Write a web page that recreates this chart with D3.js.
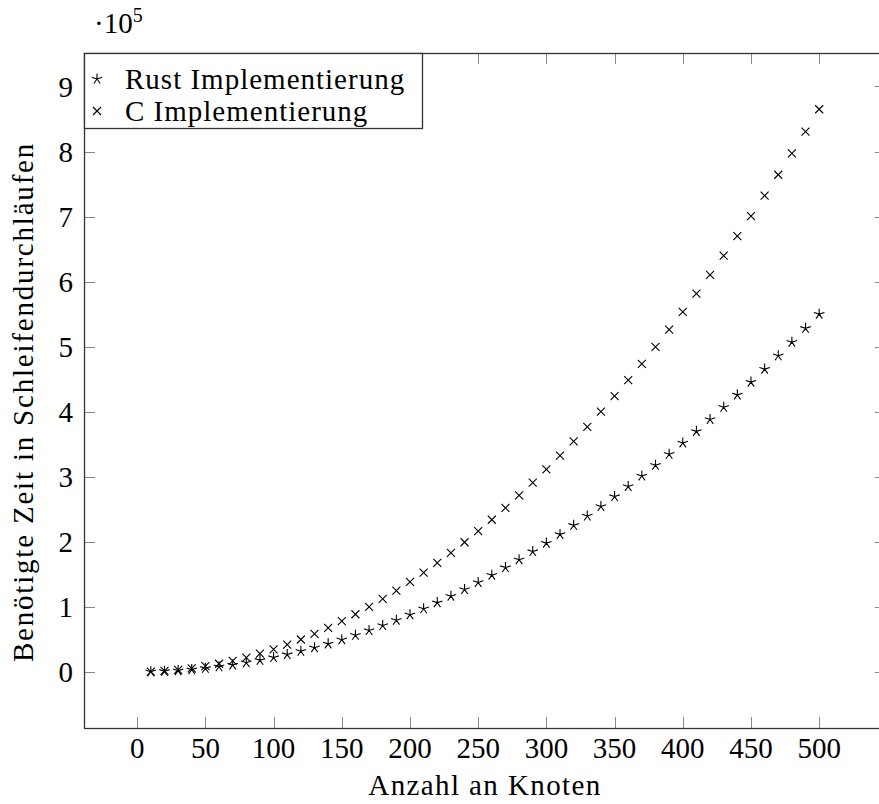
<!DOCTYPE html>
<html>
<head>
<meta charset="utf-8">
<script src="https://cdn.jsdelivr.net/npm/d3@7"></script>
<style>
  body { margin: 0; background: #fff; }
  text { font-family: "Liberation Serif", "DejaVu Serif", serif; fill: #000; }
</style>
</head>
<body>
<div id="chart"></div>
<script>
// Anzahl an Knoten
const knoten = [10, 20, 30, 40, 50, 60, 70, 80, 90, 100,
  110, 120, 130, 140, 150, 160, 170, 180, 190, 200,
  210, 220, 230, 240, 250, 260, 270, 280, 290, 300,
  310, 320, 330, 340, 350, 360, 370, 380, 390, 400,
  410, 420, 430, 440, 450, 460, 470, 480, 490, 500];

// Schleifendurchläufe, Rust
const rust = [220, 880, 1980, 3520, 5500, 7900, 10800, 14100, 17800, 22000,
  26600, 31700, 37200, 43100, 49500, 56300, 63600, 71300, 79400, 88000,
  97000, 106500, 116400, 126700, 137500, 148700, 160400, 172500, 185000, 198000,
  211400, 225300, 239600, 254300, 269500, 285100, 301200, 317700, 334600, 352000,
  369800, 388100, 406800, 425900, 445500, 465500, 486000, 506900, 528200, 550000];

// Schleifendurchläufe, C
const cImpl = [350, 1400, 3100, 5500, 8700, 12500, 17000, 22100, 28000, 34600,
  41900, 49800, 58500, 67800, 77900, 88600, 100000, 112100, 124900, 138400,
  152600, 167500, 183000, 199300, 216300, 233900, 252200, 271300, 291000, 311400,
  332500, 354300, 376800, 400000, 423900, 448400, 473700, 499600, 526300, 553600,
  581600, 610300, 639800, 669900, 700700, 732100, 764300, 797200, 830700, 865000];

const xTicks = [0, 50, 100, 150, 200, 250, 300, 350, 400, 450, 500];
const yTicks = [0, 1, 2, 3, 4, 5, 6, 7, 8, 9]; // in 10^5

const seriesNames = ['Rust Implementierung', 'C Implementierung'];

const width = 879, height = 804;
const plotL = 84, plotT = 53, plotR = 886, plotB = 728;
const tickLen = 11;

const svg = d3.select('#chart').append('svg')
  .attr('width', width)
  .attr('height', height);

// pgfplots style: enlarge limits by 10% of the data range
const xExt = d3.extent(knoten);
const xPad = (xExt[1] - xExt[0]) * 0.1;
const yExt = d3.extent(rust.concat(cImpl));
const yPad = (yExt[1] - yExt[0]) * 0.1;

const x = d3.scaleLinear()
  .domain([xExt[0] - xPad, xExt[1] + xPad])
  .range([plotL, plotR]);

const y = d3.scaleLinear()
  .domain([yExt[0] - yPad, yExt[1] + yPad])
  .range([plotB, plotT]);

// ticks on all four sides, pointing inwards
const tickG = svg.append('g')
  .attr('stroke', '#888')
  .attr('stroke-width', 1);

xTicks.forEach(t => {
  const px = Math.round(x(t)) + 0.5;
  tickG.append('line').attr('x1', px).attr('x2', px).attr('y1', plotB).attr('y2', plotB - tickLen);
  tickG.append('line').attr('x1', px).attr('x2', px).attr('y1', plotT).attr('y2', plotT + tickLen);
});
yTicks.forEach(t => {
  const py = Math.round(y(t * 1e5)) + 0.5;
  tickG.append('line').attr('x1', plotL).attr('x2', plotL + tickLen).attr('y1', py).attr('y2', py);
  tickG.append('line').attr('x1', plotR).attr('x2', plotR - tickLen).attr('y1', py).attr('y2', py);
});

// axis frame
svg.append('rect')
  .attr('x', plotL + 0.5)
  .attr('y', plotT + 0.5)
  .attr('width', plotR - plotL)
  .attr('height', plotB - plotT)
  .attr('fill', 'none')
  .attr('stroke', '#333')
  .attr('stroke-width', 1.3);

// tick labels
svg.append('g').selectAll('text')
  .data(xTicks)
  .join('text')
  .attr('x', d => x(d))
  .attr('y', 758)
  .attr('text-anchor', 'middle')
  .attr('font-size', 29)
  .text(d => d);

svg.append('g').selectAll('text')
  .data(yTicks)
  .join('text')
  .attr('x', 73)
  .attr('y', d => y(d * 1e5))
  .attr('dy', '0.35em')
  .attr('text-anchor', 'end')
  .attr('font-size', 29)
  .text(d => d);

// scale factor
const sf = svg.append('text')
  .attr('x', 94)
  .attr('y', 33)
  .attr('font-size', 29);
sf.append('tspan').text('·10');
sf.append('tspan').attr('font-size', 20).attr('dy', -11).text('5');

// axis labels
svg.append('text')
  .attr('x', (plotL + plotR) / 2)
  .attr('y', 795)
  .attr('text-anchor', 'middle')
  .attr('font-size', 29)
  .attr('letter-spacing', 1.4)
  .text('Anzahl an Knoten');

svg.append('text')
  .attr('transform', `translate(33, 402) rotate(-90)`)
  .attr('text-anchor', 'middle')
  .attr('font-size', 29)
  .attr('letter-spacing', 1.8)
  .text('Benötigte Zeit in Schleifendurchläufen');

// marks
function starPath(r) {
  let p = '';
  for (let k = 0; k < 5; k++) {
    const a = (90 + 72 * k) * Math.PI / 180;
    p += `M0,0L${(r * Math.cos(a)).toFixed(2)},${(-r * Math.sin(a)).toFixed(2)}`;
  }
  return p;
}
function crossPath(r) {
  return `M${-r},${-r}L${r},${r}M${-r},${r}L${r},${-r}`;
}

const marks = [
  { vals: rust, path: starPath(5.5) },
  { vals: cImpl, path: crossPath(4) }
];

marks.forEach(m => {
  svg.append('g').selectAll('path')
    .data(knoten)
    .join('path')
    .attr('transform', (d, i) => `translate(${x(d)},${y(m.vals[i])})`)
    .attr('d', m.path)
    .attr('fill', 'none')
    .attr('stroke', '#000')
    .attr('stroke-width', 1.1);
});

// legend
const leg = svg.append('g');
leg.append('rect')
  .attr('x', plotL + 0.5)
  .attr('y', plotT + 0.5)
  .attr('width', 338)
  .attr('height', 75)
  .attr('fill', '#fff')
  .attr('stroke', '#333')
  .attr('stroke-width', 1.3);

seriesNames.forEach((name, i) => {
  const cy = 79 + i * 32;
  leg.append('path')
    .attr('transform', `translate(97,${cy})`)
    .attr('d', marks[i].path)
    .attr('fill', 'none')
    .attr('stroke', '#000')
    .attr('stroke-width', 1.1);
  leg.append('text')
    .attr('x', 125)
    .attr('y', cy)
    .attr('dy', '0.35em')
    .attr('font-size', 29)
    .attr('letter-spacing', 1)
    .text(name);
});
</script>
</body>
</html>
